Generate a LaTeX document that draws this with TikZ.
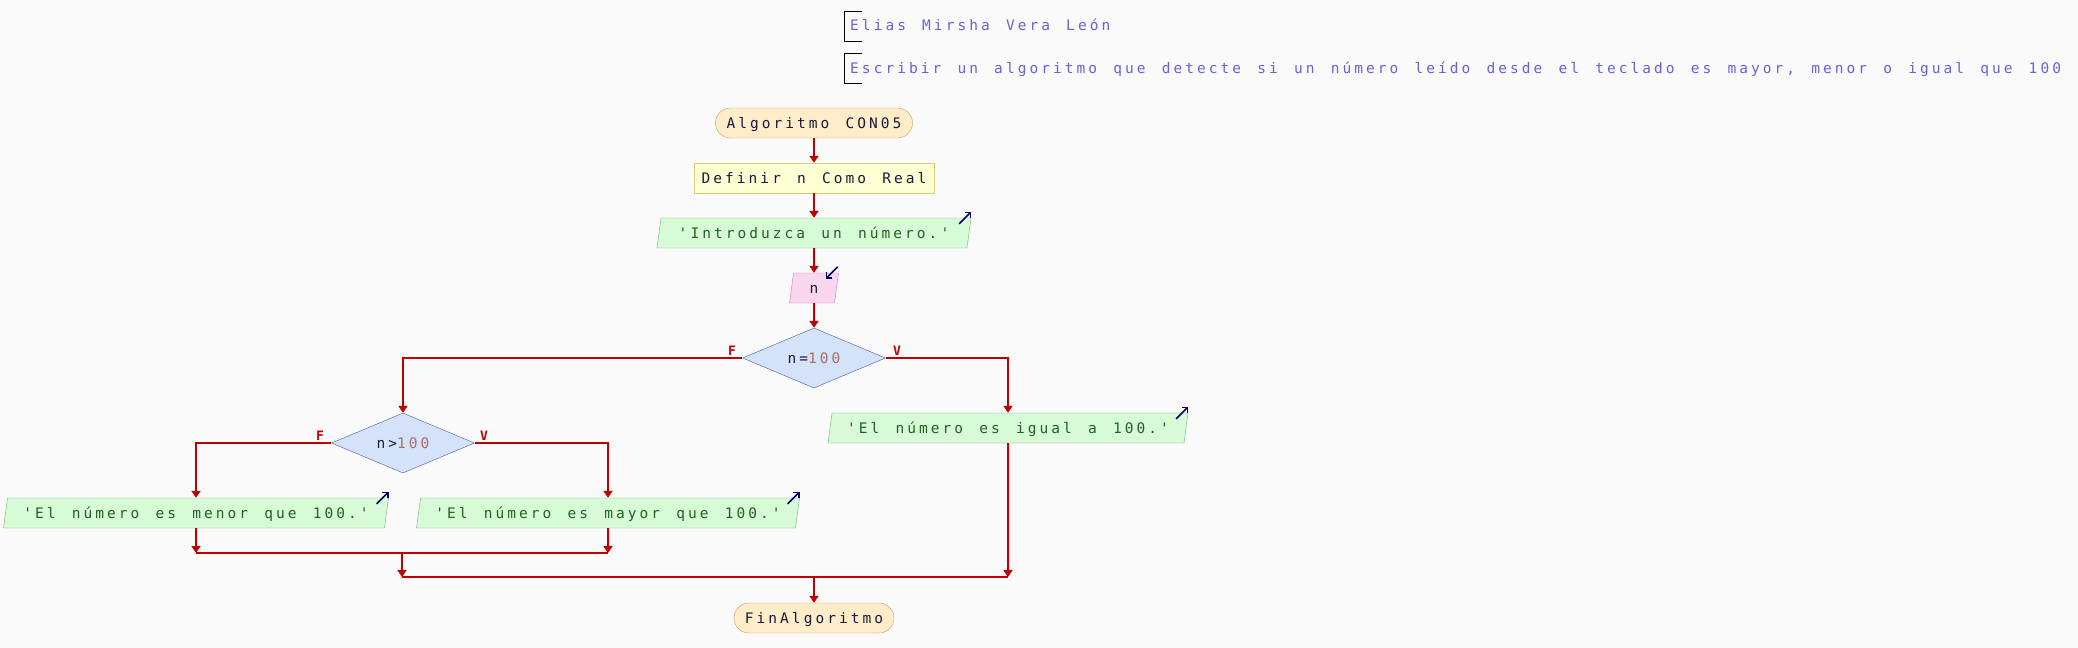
\documentclass[tikz,border=0pt]{standalone}
\usepackage{fontspec}
\usetikzlibrary{shapes.geometric,arrows.meta}
\newfontfamily\pseint{DejaVu Sans Mono}[LetterSpace=21, WordSpace=1.375]
\definecolor{fondo}{RGB}{250,250,250}
\definecolor{rojo}{RGB}{190,0,0}
\definecolor{rojoetq}{RGB}{200,0,0}
\definecolor{azulcab}{RGB}{100,100,215}
\definecolor{textonodo}{RGB}{25,25,60}
\definecolor{numero}{RGB}{170,110,100}
\definecolor{azulicono}{RGB}{0,0,100}
\definecolor{bordeterm}{RGB}{200,160,96}
\definecolor{rellenoterm}{RGB}{255,236,200}
\definecolor{bordeproc}{RGB}{215,205,120}
\definecolor{rellenoproc}{RGB}{255,255,212}
\definecolor{bordesal}{RGB}{110,180,110}
\definecolor{rellenosal}{RGB}{215,250,215}
\definecolor{textosal}{RGB}{30,100,30}
\definecolor{bordeent}{RGB}{210,120,180}
\definecolor{rellenoent}{RGB}{250,215,238}
\definecolor{bordedec}{RGB}{70,90,170}
\definecolor{rellenodec}{RGB}{212,226,250}
\tikzstyle{terminal}=[draw=bordeterm, fill=rellenoterm, rounded corners=15pt, minimum height=30pt, text=textonodo]
\tikzstyle{proceso}=[draw=bordeproc, fill=rellenoproc, minimum height=30pt, text=textonodo]
\tikzstyle{salida}=[trapezium, trapezium left angle=68, trapezium right angle=112, trapezium stretches body, draw=bordesal, fill=rellenosal, text=textosal, minimum height=30pt]
\tikzstyle{entrada}=[trapezium, trapezium left angle=68, trapezium right angle=112, trapezium stretches body, draw=bordeent, fill=rellenoent, text=textonodo, minimum height=30pt]
\tikzstyle{decision}=[diamond, shape aspect=2.4, draw=bordedec, fill=rellenodec, text=textonodo, minimum width=143pt, minimum height=60pt]
\tikzstyle{flecha}=[line width=2pt, draw=rojo, -{Triangle[width=9pt,length=7pt]}]
\tikzstyle{linea}=[line width=2pt, draw=rojo]
\tikzstyle{etiqueta}=[text=rojoetq, font=\pseint\bfseries\fontsize{13}{13}\selectfont]
\tikzstyle{icono}=[line width=1.5pt, draw=azulicono, -{Straight Barb[length=4pt,width=8pt]}]
\tikzstyle{cabecera}=[text=azulcab, anchor=base west]
\tikzstyle{corchete}=[line width=1pt, draw=black]

\begin{document}
\begin{tikzpicture}[x=1pt, y=-1pt, inner sep=0pt, text height=10pt, text depth=0pt,
    font=\pseint\fontsize{14.5}{16}\selectfont]
            \fill[fondo] (0,0) rectangle (2078,648);
            \useasboundingbox (0,0) rectangle (2078,648);
            % cabecera
            \draw[corchete] (862,11) -| (844,41) -- (862,41);
            \draw[corchete] (862,53) -| (844,83) -- (862,83);
            \node[cabecera] (autor) at (850,30) {Elias Mirsha Vera León};
            \node[cabecera] (enunciado) at (850,73) {Escribir un algoritmo que detecte si un número leído desde el teclado es mayor, menor o igual que 100};
            % nodos
            \node[terminal, minimum width=197pt] (inicio) at (814,123) {Algoritmo CON05};
            \node[proceso, minimum width=240pt] (definir) at (814,178) {Definir n Como Real};
            \node[salida, minimum width=314pt] (pedir) at (814,233) {'Introduzca un número.'};
            \node[entrada, minimum width=49pt] (leer) at (814,288) {n};
            \node[decision] (igual) at (814,358) {n=\textcolor{numero}{100}};
            \node[decision] (mayor) at (403,443) {n>\textcolor{numero}{100}};
            \node[salida, minimum width=360pt] (esigual) at (1008,428) {'El número es igual a 100.'};
            \node[salida, minimum width=385pt] (esmenor) at (196,513) {'El número es menor que 100.'};
            \node[salida, minimum width=383pt] (esmayor) at (608,513) {'El número es mayor que 100.'};
            \node[terminal, minimum width=160pt] (fin) at (814,618) {FinAlgoritmo};
            % etiquetas
            \node[etiqueta] (f1) at (732,350) {F};
            \node[etiqueta] (v1) at (897,350) {V};
            \node[etiqueta] (f2) at (320,435) {F};
            \node[etiqueta] (v2) at (484,435) {V};
            % uniones
            \coordinate (u1) at (196,553);
            \coordinate (u2) at (608,553);
            \coordinate (u3) at (402,553);
            \coordinate (u4) at (402,577);
            \coordinate (u5) at (1008,577);
            \coordinate (u6) at (814,577);
            % flechas
            \draw[flecha] (inicio) -- (definir);
            \draw[flecha] (definir) -- (pedir);
            \draw[flecha] (pedir) -- (leer);
            \draw[flecha] (leer) -- (igual);
            \draw[flecha] (igual.west) -| (mayor.north);
            \draw[flecha] (igual.east) -| (esigual.north);
            \draw[flecha] (mayor.west) -| (esmenor.north);
            \draw[flecha] (mayor.east) -| (esmayor.north);
            \draw[flecha] (esmenor.south) -- (u1);
            \draw[flecha] (esmayor.south) -- (u2);
            \draw[linea] (u1) -- (u2);
            \draw[flecha] (u3) -- (u4);
            \draw[flecha] (esigual.south) -- (u5);
            \draw[linea] (u4) -- (u5);
            \draw[flecha] (u6) -- (fin);
            % iconos
            \draw[icono] ([shift={(-12,6)}]pedir.top right corner) -- ++(12,-12);
            \draw[icono] ([shift={(-12,6)}]esigual.top right corner) -- ++(12,-12);
            \draw[icono] ([shift={(-12,6)}]esmenor.top right corner) -- ++(12,-12);
            \draw[icono] ([shift={(-12,6)}]esmayor.top right corner) -- ++(12,-12);
            \draw[icono] ([shift={(-1,-6)}]leer.top right corner) -- ++(-12,12);
\end{tikzpicture}
\end{document}
